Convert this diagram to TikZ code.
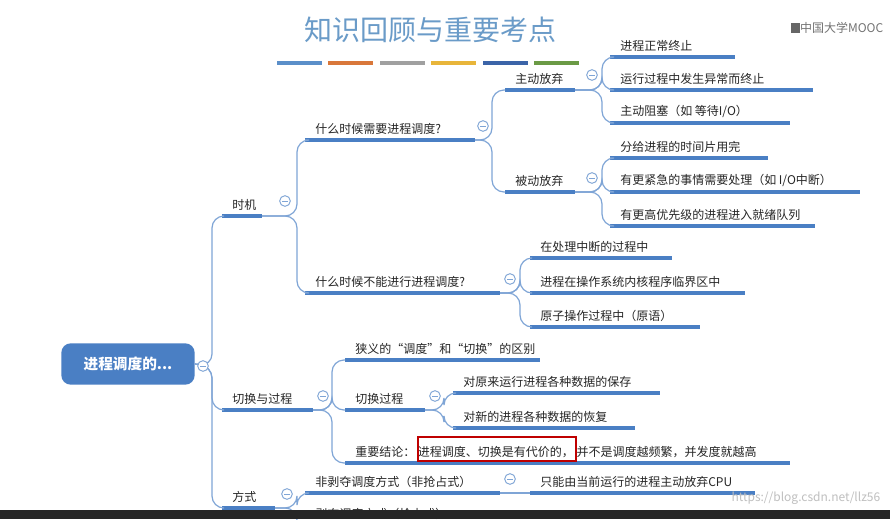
\documentclass[tikz,border=0pt]{standalone}
\usepackage{fontspec}
\setmainfont{Noto Sans CJK SC}
\begin{document}
\begin{tikzpicture}[x=0.75pt,y=-0.75pt,
  ul/.style={line width=2.3pt,draw=ulc},
  conn/.style={line width=0.9pt,draw=cnc,rounded corners=9pt},
  lbl/.style={anchor=south west,inner sep=0pt,font=\fontsize{9}{10}\selectfont,text=black!85},
  mcirc/.style={circle,draw=cnc,line width=0.7pt,minimum size=8pt,inner sep=0pt,fill=white,
    path picture={\draw[cnc,line width=0.6pt] ([xshift=-2pt]path picture bounding box.center)--([xshift=2pt]path picture bounding box.center);}}]
\definecolor{ulc}{HTML}{4A7FC4}
\definecolor{cnc}{HTML}{7FA5D6}
\definecolor{ttl}{HTML}{6A9BC8}
\useasboundingbox (0,0) rectangle (890,519);
\fill[white] (0,0) rectangle (890,519);
\newcommand\mi[5]{%
  \coordinate (#1-s) at (#2,#4);\coordinate (#1-e) at (#3,#4);
  \draw[ul] (#1-s)--(#1-e);
  \node[lbl] (#1) at (#2+10,#4-5) {#5};}
% title
\node[text=ttl,font=\fontsize{21}{24}\selectfont] (title) at (430,30) {知识回顾与重要考点};
\node[text=black!55,font=\fontsize{9}{10}\selectfont,anchor=east] (logo) at (888,28) {\textcolor{black!60}{\rule{7pt}{7pt}}中国大学MOOC};
\foreach \xa/\c in {277/5B8FC9,328/D9773A,380/A0A0A0,431/E8B53A,483/3B64A8,534/6B9A45}{
  \definecolor{bc}{HTML}{\c}\draw[line width=3pt,bc] (\xa,63)--(\xa+45,63);}
% root
\node[fill=ulc,rounded corners=7pt,minimum width=100pt,minimum height=31pt,text=white,
  font=\fontsize{11}{12}\selectfont\bfseries] (root) at (128,364) {进程调度的...};
\coordinate (rootc) at (203,366);
% level 1
\mi{shiji}{222}{262}{216}{时机}
\mi{qiehuan}{222}{313}{410}{切换与过程}
\mi{fangshi}{222}{275}{508}{方式}
\draw[conn] (root.east)--(212,366)|-(shiji-s);
\draw[conn] (root.east)--(212,366)|-(qiehuan-s);
\draw[conn] (root.east)--(212,366)|-(fangshi-s);
\node[mcirc] (rc) at (rootc) {};
% 时机
\mi{need}{305}{475}{140}{什么时候需要进程调度?}
\mi{noneed}{305}{500}{293}{什么时候不能进行进程调度?}
\draw[conn] (shiji-e)--(297,216)|-(need-s);
\draw[conn] (shiji-e)--(297,216)|-(noneed-s);
\node[mcirc] at (285,201) {};
\mi{zd}{505}{575}{90}{主动放弃}
\mi{bd}{505}{575}{192}{被动放弃}
\draw[conn] (need-e)--(492,140)|-(zd-s);
\draw[conn] (need-e)--(492,140)|-(bd-s);
\node[mcirc] at (483,126) {};
\mi{z1}{610}{735}{57}{进程正常终止}
\mi{z2}{610}{813}{90}{运行过程中发生异常而终止}
\mi{z3}{610}{790}{123}{主动阻塞（如 等待I/O）}
\foreach \t in {z1,z2,z3}{\draw[conn] (zd-e)--(602,90)|-(\t-s);}
\node[mcirc] at (592,75) {};
\mi{b1}{610}{768}{158}{分给进程的时间片用完}
\mi{b2}{610}{860}{192}{有更紧急的事情需要处理（如 I/O中断）}
\mi{b3}{610}{815}{226}{有更高优先级的进程进入就绪队列}
\foreach \t in {b1,b2,b3}{\draw[conn] (bd-e)--(602,192)|-(\t-s);}
\node[mcirc] at (592,178) {};
\mi{n1}{530}{672}{258}{在处理中断的过程中}
\mi{n2}{530}{745}{293}{进程在操作系统内核程序临界区中}
\mi{n3}{530}{700}{327}{原子操作过程中（原语）}
\foreach \t in {n1,n2,n3}{\draw[conn] (noneed-e)--(520,293)|-(\t-s);}
\node[mcirc] at (510,279) {};
% 切换与过程
\mi{q1}{345}{540}{360}{狭义的“调度”和“切换”的区别}
\mi{q2}{345}{425}{410}{切换过程}
\mi{q3}{345}{790}{463}{重要结论：\hspace{2pt}进程调度、切换是有代价的，\hspace{2pt}并不是调度越频繁，并发度就越高}
\foreach \t in {q1,q2,q3}{\draw[conn] (qiehuan-e)--(332,410)|-(\t-s);}
\node[mcirc] at (323,396) {};
\draw[red!75!black,line width=1pt] (418,437) rectangle (576,461);
\mi{s1}{453}{660}{393}{对原来运行进程各种数据的保存}
\mi{s2}{453}{635}{428}{对新的进程各种数据的恢复}
\foreach \t in {s1,s2}{\draw[conn] (q2-e)--(444,410)|-(\t-s);}
\node[mcirc] at (435,396) {};
% 方式
\mi{f1}{305}{500}{493}{非剥夺调度方式（非抢占式）}
\draw[conn] (fangshi-e)--(297,508)|-(f1-s);
\draw[conn] (fangshi-e)--(297,508)--(297,530);
\node[mcirc] at (287,494) {};
\mi{g1}{530}{755}{493}{只能由当前运行的进程主动放弃CPU}
\draw[conn] (f1-e)--(g1-s);
\node[mcirc] at (510,479) {};
\node[lbl] (f2) at (315,520) {剥夺调度方式（抢占式）};
\node[text=black!25,font=\fontsize{9}{10}\selectfont,anchor=east] (wm) at (885,498) {https://blog.csdn.net/llz56};
\fill[black!85] (0,510) rectangle (890,519);
\end{tikzpicture}
\end{document}
